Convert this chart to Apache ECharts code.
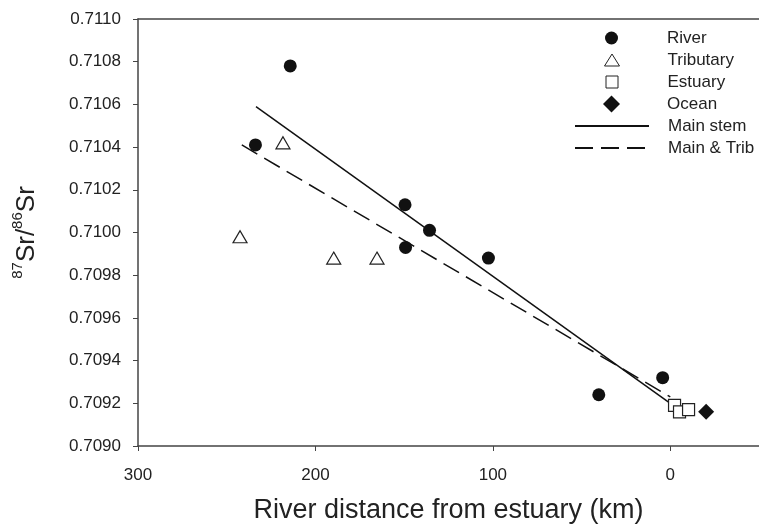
<!DOCTYPE html>
<html>
<head>
<meta charset="utf-8">
<script src="https://cdn.jsdelivr.net/npm/echarts@6/dist/echarts.min.js"></script>
<style>
html,body{margin:0;padding:0;background:#fff;}
#c{width:759px;height:529px;}
</style>
</head>
<body>
<div id="c"></div>
<script>
// ---- Data ----
const riverX = [214.2, 233.8, 149.5, 135.7, 149.2, 102.5, 4.3, 40.3];
const riverY = [0.71078, 0.71041, 0.71013, 0.71001, 0.70993, 0.70988, 0.70932, 0.70924];
const tribX = [218.3, 242.5, 189.7, 165.3];
const tribY = [0.71042, 0.70998, 0.70988, 0.70988];
const estuaryX = [-2.4, -5.2, -10.3];
const estuaryY = [0.70919, 0.70916, 0.70917];
const oceanX = [-20.2];
const oceanY = [0.70916];
const mainStemX = [233.5, 0];
const mainStemY = [0.71059, 0.70920];
const mainTribX = [241.5, 0];
const mainTribY = [0.71041, 0.70923];
const xTicks = [0, 100, 200, 300];
const legendNames = ['River', 'Tributary', 'Estuary', 'Ocean', 'Main stem', 'Main & Trib'];

const pairs = (xs, ys) => xs.map((x, i) => [x, ys[i]]);
const FONT = '"Liberation Sans", Arial, sans-serif';
const AX = '#444';
const TXT = '#222';
const HIDE = {color: 'rgba(0,0,0,0)', borderColor: 'rgba(0,0,0,0)', borderWidth: 0};
const OPEN = {color: '#fff', borderColor: '#222', borderWidth: 1};
const FILLED = {color: '#111', borderWidth: 0};

// one small legend per marker so each icon keeps its own size
function symLegend(name, icon, w, h, top, itemStyle) {
  const left = 606.5 - w / 2;
  return {
    orient: 'vertical', left: left, top: top,
    itemWidth: w, itemHeight: h,
    textStyle: {fontSize: 17, color: TXT, fontFamily: FONT, padding: [0, 0, 0, 657 - (left + w)]},
    data: [{name: name, icon: icon, itemStyle: itemStyle}]
  };
}

const chart = echarts.init(document.getElementById('c'), null, {renderer: 'canvas'});
const option = {
  animation: false,
  backgroundColor: '#fff',
  textStyle: {fontFamily: FONT},
  grid: {left: 138, top: 19, right: 0, bottom: 74},
  xAxis: [{
    type: 'value', inverse: true, min: -50, max: 300, position: 'bottom',
    axisLine: {show: true, onZero: false, lineStyle: {color: AX, width: 1.5}},
    axisTick: {show: true, inside: false, length: 5, customValues: xTicks, lineStyle: {color: AX, width: 1}},
    axisLabel: {customValues: xTicks, fontSize: 17, color: TXT, margin: 21, fontFamily: FONT},
    splitLine: {show: false},
    name: 'River distance from estuary (km)', nameLocation: 'middle', nameGap: 51,
    nameTextStyle: {fontSize: 27, color: TXT, fontFamily: FONT}
  }, {
    type: 'value', inverse: true, min: -50, max: 300, position: 'top',
    axisLine: {show: true, onZero: false, lineStyle: {color: AX, width: 1.5}},
    axisTick: {show: false}, axisLabel: {show: false}, splitLine: {show: false}
  }],
  yAxis: {
    type: 'value', min: 0.709, max: 0.711, interval: 0.0002,
    axisLine: {show: true, onZero: false, lineStyle: {color: AX, width: 1.5}},
    axisTick: {show: true, inside: false, length: 5, lineStyle: {color: AX, width: 1}},
    axisLabel: {formatter: v => v.toFixed(4), fontSize: 17, color: TXT, margin: 17, fontFamily: FONT},
    splitLine: {show: false},
    name: '{sup|87}{b|Sr/}{sup|86}{b|Sr}', nameLocation: 'middle', nameRotate: 90, nameGap: 98,
    nameTextStyle: {
      color: TXT, fontFamily: FONT,
      rich: {
        b: {fontSize: 26, lineHeight: 30, color: TXT, fontFamily: FONT, verticalAlign: 'bottom'},
        sup: {fontSize: 15, lineHeight: 15, color: TXT, fontFamily: FONT, verticalAlign: 'top'}
      }
    }
  },
  legend: [
    symLegend(legendNames[0], 'circle', 13, 13, 24.5, FILLED),
    symLegend(legendNames[1], 'triangle', 15, 12, 46.5, OPEN),
    symLegend(legendNames[2], 'rect', 12, 12, 68.5, OPEN),
    symLegend(legendNames[3], 'diamond', 17, 17, 90.5, FILLED),
    {
      orient: 'vertical', left: 569, top: 112.5,
      itemWidth: 74, itemHeight: 14, itemGap: 5,
      textStyle: {fontSize: 17, color: TXT, fontFamily: FONT, padding: [0, 0, 0, 14]},
      data: [
        {name: legendNames[4], itemStyle: HIDE},
        {name: legendNames[5], itemStyle: HIDE}
      ]
    }
  ],
  series: [
    {type: 'scatter', name: legendNames[0], data: pairs(riverX, riverY), symbol: 'circle', symbolSize: 13,
     itemStyle: {color: '#111', opacity: 1}, z: 3},
    {type: 'scatter', name: legendNames[1], data: pairs(tribX, tribY), symbol: 'triangle', symbolSize: [14, 12],
     itemStyle: {color: '#fff', borderColor: '#222', borderWidth: 1.2, opacity: 1}, z: 3},
    {type: 'scatter', name: legendNames[2], data: pairs(estuaryX, estuaryY), symbol: 'rect', symbolSize: 12,
     itemStyle: {color: '#fff', borderColor: '#222', borderWidth: 1.2, opacity: 1}, z: 3},
    {type: 'scatter', name: legendNames[3], data: pairs(oceanX, oceanY), symbol: 'diamond', symbolSize: 16,
     itemStyle: {color: '#111', opacity: 1}, z: 3},
    {type: 'line', name: legendNames[4], data: pairs(mainStemX, mainStemY), symbol: 'none', showSymbol: false,
     lineStyle: {color: '#111', width: 1.5}, z: 1},
    {type: 'line', name: legendNames[5], data: pairs(mainTribX, mainTribY), symbol: 'none', showSymbol: false,
     lineStyle: {color: '#111', width: 1.5, type: [18, 8]}, z: 1}
  ]
};
chart.setOption(option);
</script>
</body>
</html>
